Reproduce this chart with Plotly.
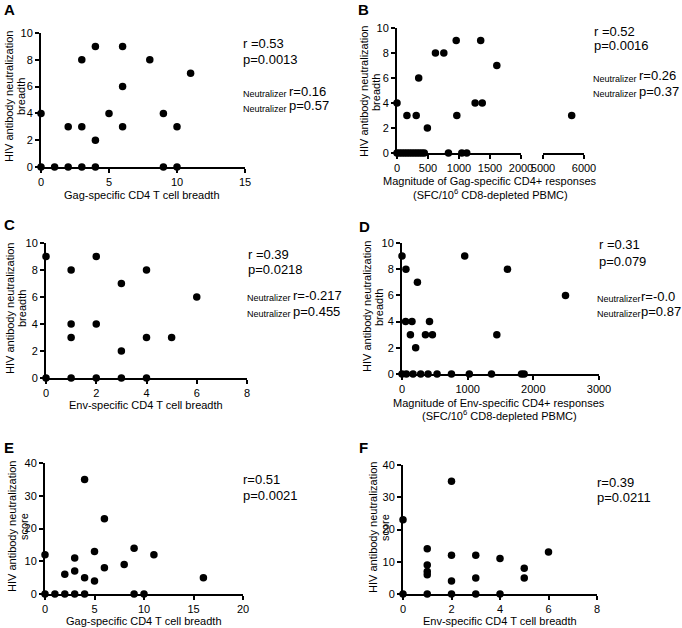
import plotly.graph_objects as go

W, H = 682, 628
FONT = "Liberation Sans, Arial, sans-serif"

# ---------------- data ----------------
# Panel A: Gag-specific CD4 T cell breadth vs NAb breadth
a_gag_breadth = [0, 0, 1, 2, 3, 4, 9, 10, 2, 3, 3, 4, 4, 5, 6, 6, 6, 8, 9, 10, 11]
a_nab_breadth = [4, 0, 0, 0, 0, 0, 0, 0, 3, 3, 8, 9, 2, 4, 9, 6, 3, 8, 4, 3, 7]

# Panel B: Gag-specific CD4 magnitude vs NAb breadth (broken x axis)
b_gag_mag_low = [0, 160, 310, 350, 490, 620, 755, 955, 965, 1260, 1350, 1375, 1610,
                 0, 40, 80, 120, 160, 200, 240, 280, 320, 360, 400, 440, 830, 1045, 1125]
b_nab_breadth_low = [4, 3, 3, 6, 2, 8, 8, 9, 3, 4, 9, 4, 7,
                     0, 0, 0, 0, 0, 0, 0, 0, 0, 0, 0, 0, 0, 0, 0]
b_gag_mag_high = [5700]
b_nab_breadth_high = [3]

# Panel C: Env-specific CD4 T cell breadth vs NAb breadth
c_env_breadth = [0, 0, 1, 1, 1, 1, 2, 2, 2, 3, 3, 3, 4, 4, 4, 5, 6]
c_nab_breadth = [9, 0, 8, 4, 3, 0, 9, 4, 0, 7, 2, 0, 8, 3, 0, 3, 6]

# Panel D: Env-specific CD4 magnitude vs NAb breadth
d_env_mag = [0, 60, 235, 55, 152, 419, 128, 357, 463, 208, 955, 1444, 1606, 2490,
             0, 66, 168, 285, 397, 534, 753, 1025, 1363, 1820, 1860]
d_nab_breadth = [9, 8, 7, 4, 4, 4, 3, 3, 3, 2, 9, 3, 8, 6,
                 0, 0, 0, 0, 0, 0, 0, 0, 0, 0, 0]

# Panel E: Gag-specific CD4 T cell breadth vs NAb score
e_gag_breadth = [0, 0, 1, 2, 3, 4, 9, 10, 2, 3, 3, 4, 4, 5, 5, 6, 6, 8, 9, 11, 16]
e_nab_score = [12, 0, 0, 0, 0, 0, 0, 0, 6, 11, 7, 35, 5, 13, 4, 23, 8, 9, 14, 12, 5]

# Panel F: Env-specific CD4 T cell breadth vs NAb score
f_env_breadth = [0, 0, 1, 1, 1, 1, 1, 2, 2, 2, 2, 3, 3, 3, 4, 4, 5, 5, 6]
f_nab_score = [23, 0, 14, 9, 7, 6, 0, 35, 12, 4, 0, 12, 5, 0, 11, 0, 8, 5, 13]

# tick labels
breadth_ticks_10 = [0, 2, 4, 6, 8, 10]
score_ticks_40 = [0, 10, 20, 30, 40]


def fx(px):
    return px / W


def fy(py):
    return 1 - py / H


fig = go.Figure()

marker = dict(color="black", size=7.5)


def add_pts(x, y, xa, ya):
    fig.add_trace(go.Scatter(x=x, y=y, mode="markers", marker=marker,
                             xaxis=xa, yaxis=ya, cliponaxis=False,
                             showlegend=False, hoverinfo="x+y"))


add_pts(a_gag_breadth, a_nab_breadth, "x", "y")
add_pts(b_gag_mag_low, b_nab_breadth_low, "x2", "y2")
add_pts(b_gag_mag_high, b_nab_breadth_high, "x7", "y2")
add_pts(c_env_breadth, c_nab_breadth, "x3", "y3")
add_pts(d_env_mag, d_nab_breadth, "x4", "y4")
add_pts(e_gag_breadth, e_nab_score, "x5", "y5")
add_pts(f_env_breadth, f_nab_score, "x6", "y6")

axis_common = dict(showline=True, linecolor="black", linewidth=2, ticks="outside",
                   ticklen=4, tickwidth=2, tickcolor="black", showgrid=False,
                   zeroline=False, tickfont=dict(family=FONT, size=11, color="black"),
                   fixedrange=True, automargin=False)


def xax(x0, x1, rng, tickvals, anchor):
    d = dict(axis_common)
    d.update(domain=[fx(x0), fx(x1)], range=rng, tickvals=tickvals, anchor=anchor)
    return d


def yax(y_top, y_bottom, rng, tickvals, anchor):
    d = dict(axis_common)
    d.update(domain=[fy(y_bottom), fy(y_top)], range=rng, tickvals=tickvals,
             anchor=anchor)
    return d


layout = dict(
    width=W, height=H, autosize=False,
    margin=dict(l=0, r=0, t=0, b=0, pad=0, autoexpand=False),
    plot_bgcolor="white", paper_bgcolor="white", showlegend=False,
    font=dict(family=FONT, color="black"),
)

# Panel A
layout["xaxis"] = xax(41, 245, [0, 15], [0, 5, 10, 15], "y")
layout["yaxis"] = yax(33, 167, [0, 10], breadth_ticks_10, "x")
# Panel B (broken axis)
layout["xaxis2"] = xax(397, 521, [0, 2000], [0, 500, 1000, 1500, 2000], "y2")
layout["xaxis7"] = xax(543, 584, [5000, 6000], [5000, 6000], "y2")
layout["yaxis2"] = yax(28, 153, [0, 10], breadth_ticks_10, "x2")
# Panel C
layout["xaxis3"] = xax(46, 247, [0, 8], [0, 2, 4, 6, 8], "y3")
layout["yaxis3"] = yax(243, 378, [0, 10], breadth_ticks_10, "x3")
# Panel D
layout["xaxis4"] = xax(402, 599, [0, 3000], [0, 1000, 2000, 3000], "y4")
layout["yaxis4"] = yax(243, 374, [0, 10], breadth_ticks_10, "x4")
# Panel E
layout["xaxis5"] = xax(45, 243, [0, 20], [0, 5, 10, 15, 20], "y5")
layout["yaxis5"] = yax(463, 594, [0, 40], score_ticks_40, "x5")
# Panel F
layout["xaxis6"] = xax(403, 597, [0, 8], [0, 2, 4, 6, 8], "y6")
layout["yaxis6"] = yax(465, 594, [0, 40], score_ticks_40, "x6")

fig.update_layout(**layout)

ann = []


def text(px, py, s, size=11, xanchor="center", bold=False, angle=0):
    if bold:
        s = "<b>" + s + "</b>"
    ann.append(dict(x=fx(px), y=fy(py), xref="paper", yref="paper", text=s,
                    showarrow=False, xanchor=xanchor, yanchor="middle",
                    textangle=angle, font=dict(family=FONT, size=size, color="black")))


def neutralizer(px, py, value, gap=46):
    text(px, py + 3, "Neutralizer", 9, "left")
    text(px + gap, py, value, 13, "left")


def ytitle(px1, px2, py, line2):
    text(px1, py, "HIV antibody neutralization", angle=-90)
    text(px2, py, line2, angle=-90)


# Panel letters
for lbl, px, py in [("A", 9, 9), ("B", 363, 9), ("C", 9, 225), ("D", 364, 227),
                    ("E", 9, 447), ("F", 363, 448)]:
    text(px, py, lbl, size=15, bold=True)

# Statistics
text(241, 44, "r =0.53", 13, "left")
text(241, 60, "p=0.0013", 13, "left")
neutralizer(241, 91, "r=0.16")
neutralizer(241, 106, "p=0.57")

text(592, 32, "r =0.52", 13, "left")
text(592, 46, "p=0.0016", 13, "left")
neutralizer(591, 76, "r=0.26")
neutralizer(591, 91, "p=0.37")

text(246, 254, "r =0.39", 13, "left")
text(246, 269, "p=0.0218", 13, "left")
neutralizer(245, 295, "r=-0.217")
neutralizer(245, 311, "p=0.455")

text(597, 245, "r =0.31", 13, "left")
text(597, 261, "p=0.079", 13, "left")
neutralizer(595, 296, "r=-0.0", gap=44)
neutralizer(595, 311, "p=0.87", gap=44)

text(241, 479, "r=0.51", 13, "left")
text(241, 495, "p=0.0021", 13, "left")

text(595, 482, "r=0.39", 13, "left")
text(595, 497, "p=0.0211", 13, "left")

# X titles
text(142, 195, "Gag-specific CD4 T cell breadth")
text(490, 181, "Magnitude of Gag-specific CD4+ responses")
text(490, 194, "(SFC/10<sup>6</sup> CD8-depleted PBMC)")
text(146, 405, "Env-specific CD4 T cell breadth")
text(499, 403, "Magnitude of Env-specific CD4+ responses")
text(499, 415, "(SFC/10<sup>6</sup> CD8-depleted PBMC)")
text(144, 621, "Gag-specific CD4 T cell breadth")
text(500, 621, "Env-specific CD4 T cell breadth")

# Y titles (two rotated lines each)
ytitle(9, 21, 97, "breadth")
ytitle(364, 376, 92, "breadth")
ytitle(10, 22, 309, "breadth")
ytitle(367, 379, 307, "breadth")
ytitle(12, 24, 527, "score")
ytitle(373, 385, 528, "score")

fig.update_layout(annotations=ann)

# remove the default 8px page margin so the 682x628 figure fills the window
fig.write_html("out.html", config={"displayModeBar": False},
               post_script="document.body.style.margin='0px';"
                           "document.body.style.overflow='hidden';")
